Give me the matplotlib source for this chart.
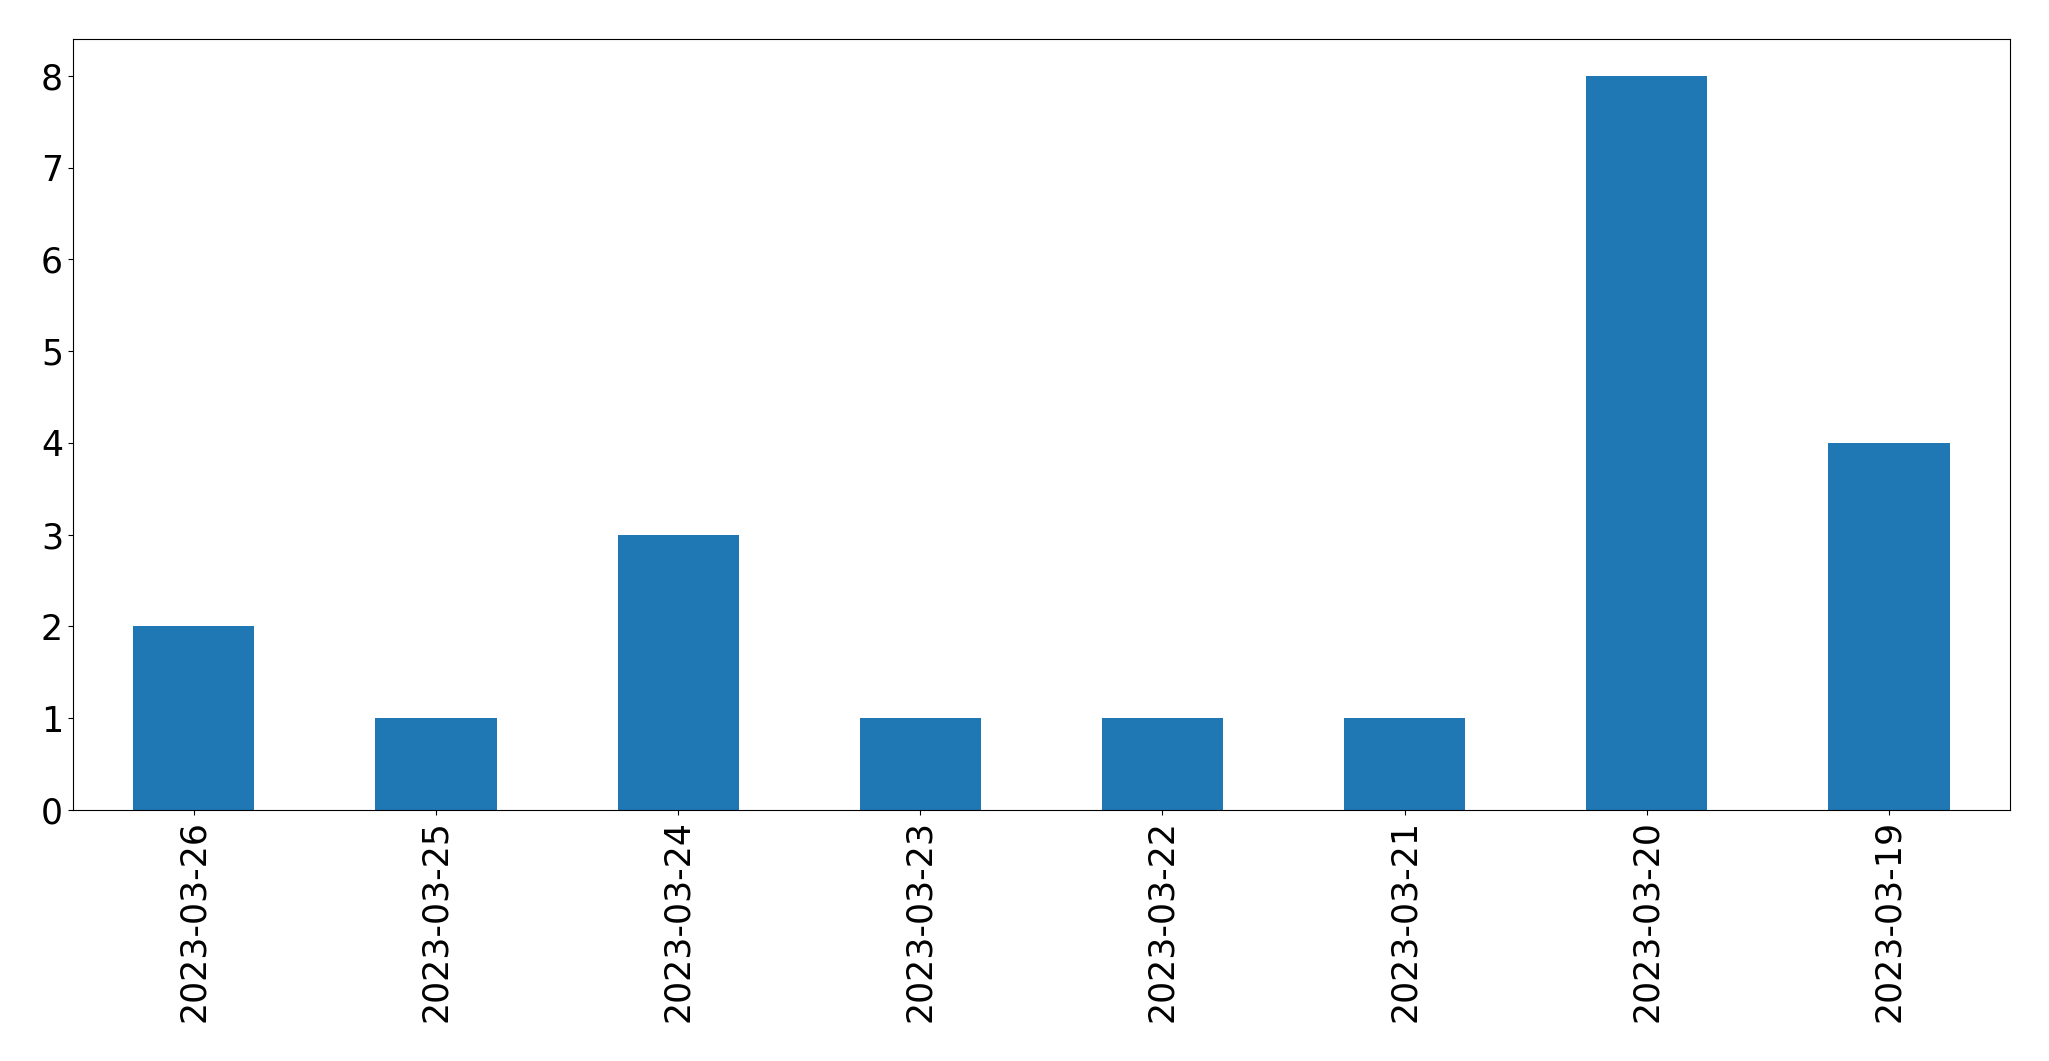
import matplotlib
matplotlib.use("Agg")
import matplotlib.pyplot as plt

# datos
fechas = ["2023-03-26", "2023-03-25", "2023-03-24", "2023-03-23",
          "2023-03-22", "2023-03-21", "2023-03-20", "2023-03-19"]
conteos = [2, 1, 3, 1, 1, 1, 8, 4]

fig, ax = plt.subplots(figsize=(20.49, 10.61), dpi=100)
x = range(len(fechas))
ax.bar(x, conteos, width=0.5, color="#1f77b4")
ax.set_xlim(-0.5, len(fechas) - 0.5)
ax.set_ylim(0, 8.4)
ax.set_xticks(list(x))
ax.set_xticklabels(fechas, rotation=90)
ax.tick_params(axis="both", labelsize=25)

fig.subplots_adjust(left=0.0355, right=0.981, top=0.963, bottom=0.2366)
plt.savefig("out.png", dpi=100)
